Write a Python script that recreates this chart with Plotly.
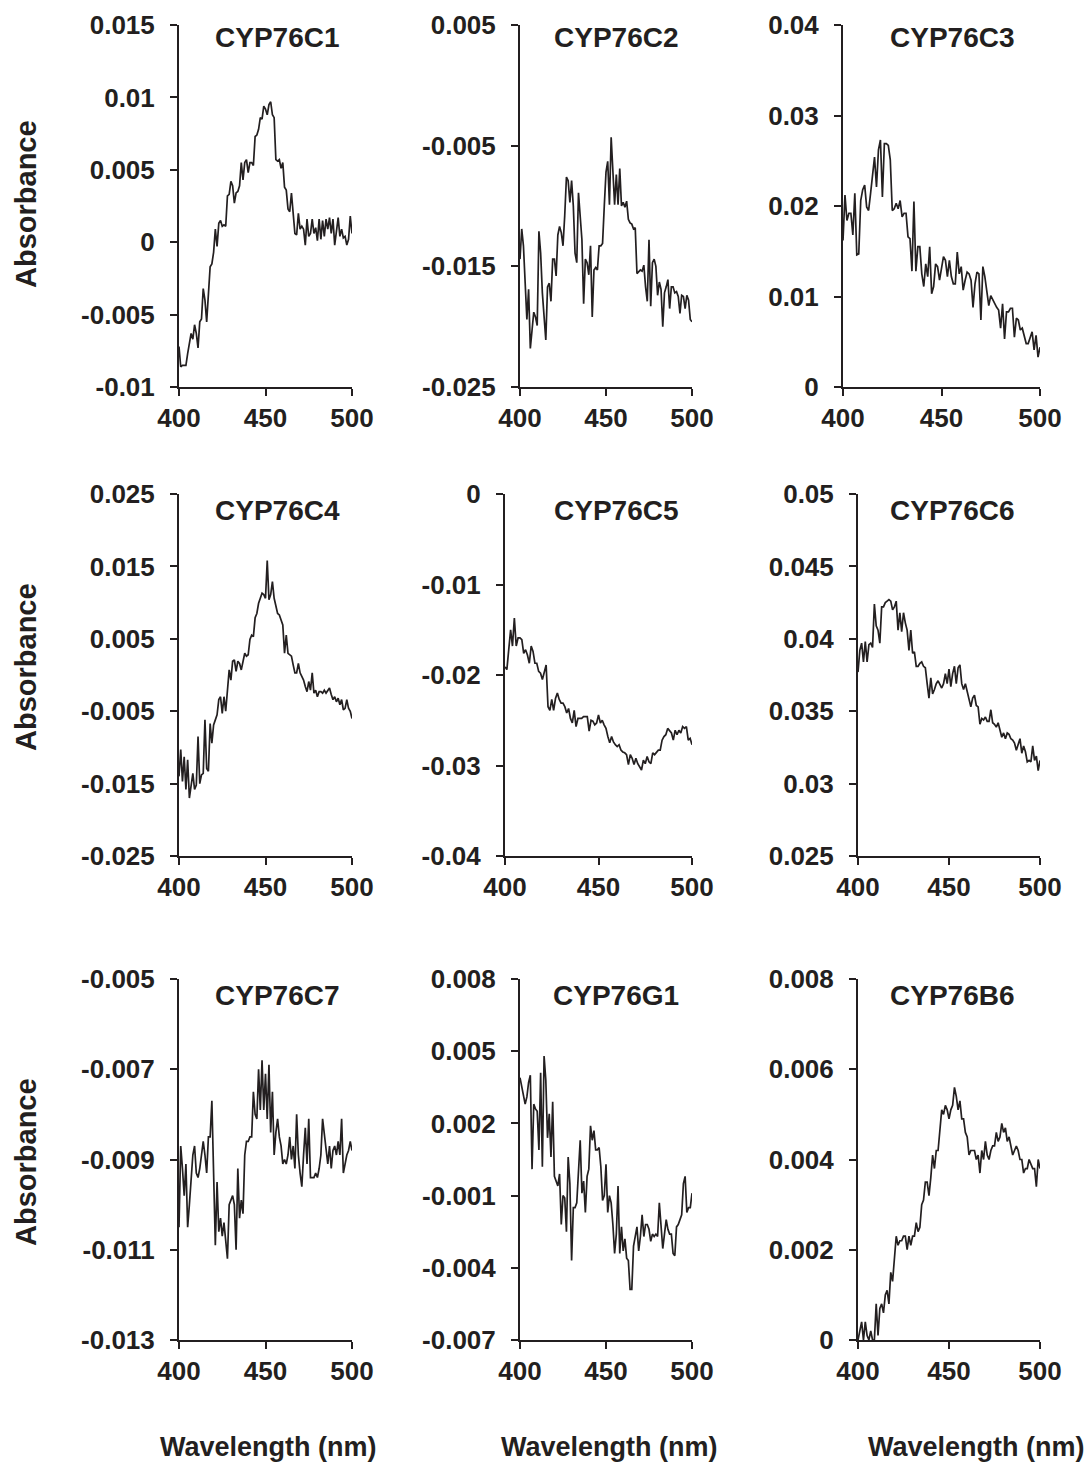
import plotly.graph_objects as go

W, H = 1091, 1466

wavelength = list(range(400, 501))

titles = ["CYP76C1", "CYP76C2", "CYP76C3",
          "CYP76C4", "CYP76C5", "CYP76C6",
          "CYP76C7", "CYP76G1", "CYP76B6"]

cyp76c1 = [-0.0072, -0.0086, -0.0085, -0.0085, -0.0085, -0.0077, -0.0070, -0.0063, -0.0067, -0.0057,
           -0.0063, -0.0073, -0.0055, -0.0053, -0.0032, -0.0040, -0.0055, -0.0037, -0.0017, -0.0015,
           -0.0007, 0.0009, -0.0003, 0.0013, 0.0015, 0.0011, 0.0012, 0.0011, 0.0032, 0.0033,
           0.0042, 0.0039, 0.0027, 0.0034, 0.0035, 0.0039, 0.0055, 0.0043, 0.0055, 0.0057,
           0.0048, 0.0055, 0.0055, 0.0053, 0.0073, 0.0074, 0.0078, 0.0086, 0.0085, 0.0094,
           0.0092, 0.0088, 0.0095, 0.0097, 0.0088, 0.0086, 0.0057, 0.0056, 0.0057, 0.0051,
           0.0055, 0.0038, 0.0036, 0.0023, 0.0021, 0.0034, 0.0020, 0.0006, 0.0005, 0.0020,
           0.0009, 0.0011, 0.0009, -0.0002, 0.0016, 0.0004, 0.0006, 0.0016, 0.0006, 0.0010,
           0.0001, 0.0016, 0.0002, 0.0015, 0.0004, 0.0016, 0.0009, 0.0017, 0.0006, 0.0016,
           -0.0002, 0.0009, 0.0017, 0.0004, 0.0009, 0.0003, 0.0004, -0.0002, 0.0002, 0.0018,
           0.0006]

cyp76c2 = [-0.0144, -0.0119, -0.0133, -0.0169, -0.0194, -0.0169, -0.0218, -0.0203, -0.0188, -0.0192,
           -0.0199, -0.0121, -0.0139, -0.0172, -0.0194, -0.0211, -0.0167, -0.0164, -0.0179, -0.0144,
           -0.0144, -0.0158, -0.0124, -0.0117, -0.0122, -0.0133, -0.0108, -0.0076, -0.0079, -0.0097,
           -0.0079, -0.0100, -0.0139, -0.0147, -0.0089, -0.0106, -0.0128, -0.0181, -0.0144, -0.0147,
           -0.0157, -0.0133, -0.0192, -0.0153, -0.0151, -0.0153, -0.0133, -0.0133, -0.0131, -0.0100,
           -0.0072, -0.0063, -0.0099, -0.0043, -0.0069, -0.0099, -0.0074, -0.0099, -0.0069, -0.0100,
           -0.0097, -0.0101, -0.0096, -0.0111, -0.0114, -0.0115, -0.0119, -0.0118, -0.0156, -0.0154,
           -0.0153, -0.0154, -0.0149, -0.0167, -0.0179, -0.0128, -0.0183, -0.0147, -0.0144, -0.0150,
           -0.0174, -0.0163, -0.0169, -0.0200, -0.0172, -0.0167, -0.0161, -0.0185, -0.0167, -0.0167,
           -0.0172, -0.0171, -0.0175, -0.0189, -0.0174, -0.0175, -0.0185, -0.0174, -0.0178, -0.0194,
           -0.0196]

cyp76c3 = [0.0162, 0.0212, 0.0184, 0.0192, 0.0192, 0.0168, 0.0214, 0.0146, 0.0147, 0.0206,
           0.0218, 0.0223, 0.0199, 0.0195, 0.0214, 0.0238, 0.0254, 0.0221, 0.0262, 0.0273,
           0.0210, 0.0269, 0.0269, 0.0267, 0.0251, 0.0195, 0.0197, 0.0203, 0.0197, 0.0206,
           0.0188, 0.0192, 0.0192, 0.0166, 0.0164, 0.0128, 0.0205, 0.0128, 0.0155, 0.0155,
           0.0125, 0.0111, 0.0136, 0.0122, 0.0155, 0.0103, 0.0111, 0.0136, 0.0133, 0.0118,
           0.0133, 0.0144, 0.0140, 0.0122, 0.0140, 0.0122, 0.0114, 0.0114, 0.0149, 0.0125,
           0.0133, 0.0107, 0.0118, 0.0127, 0.0125, 0.0118, 0.0088, 0.0114, 0.0127, 0.0125,
           0.0074, 0.0133, 0.0122, 0.0107, 0.0090, 0.0101, 0.0096, 0.0092, 0.0088, 0.0085,
           0.0065, 0.0092, 0.0053, 0.0083, 0.0083, 0.0087, 0.0087, 0.0055, 0.0076, 0.0074,
           0.0063, 0.0065, 0.0055, 0.0048, 0.0048, 0.0055, 0.0061, 0.0041, 0.0057, 0.0033,
           0.0044]

cyp76c4 = [-0.0140, -0.0103, -0.0147, -0.0113, -0.0158, -0.0117, -0.0170, -0.0150, -0.0136, -0.0158,
           -0.0152, -0.0085, -0.0150, -0.0138, -0.0136, -0.0062, -0.0129, -0.0133, -0.0067, -0.0094,
           -0.0069, -0.0062, -0.0055, -0.0034, -0.0030, -0.0053, -0.0030, -0.0050, -0.0016, 0.0007,
           -0.0007, 0.0019, 0.0021, 0.0005, 0.0019, 0.0016, 0.0007, 0.0019, 0.0030, 0.0026,
           0.0028, 0.0049, 0.0055, 0.0053, 0.0079, 0.0085, 0.0099, 0.0106, 0.0113, 0.0111,
           0.0106, 0.0158, 0.0104, 0.0111, 0.0129, 0.0106, 0.0095, 0.0085, 0.0083, 0.0076,
           0.0069, 0.0030, 0.0055, 0.0030, 0.0028, 0.0026, 0.0014, 0.0003, 0.0003, 0.0016,
           0.0003, -0.0002, -0.0007, -0.0016, -0.0023, -0.0009, -0.0021, 0.0003, -0.0025, -0.0021,
           -0.0030, -0.0023, -0.0023, -0.0025, -0.0021, -0.0025, -0.0021, -0.0018, -0.0027, -0.0034,
           -0.0030, -0.0037, -0.0032, -0.0041, -0.0034, -0.0048, -0.0046, -0.0034, -0.0046, -0.0050,
           -0.0060]

cyp76c5 = [-0.0191, -0.0194, -0.0172, -0.0150, -0.0168, -0.0137, -0.0168, -0.0159, -0.0159, -0.0161,
           -0.0176, -0.0172, -0.0178, -0.0187, -0.0168, -0.0174, -0.0187, -0.0187, -0.0196, -0.0198,
           -0.0205, -0.0196, -0.0189, -0.0235, -0.0239, -0.0227, -0.0239, -0.0226, -0.0220, -0.0227,
           -0.0231, -0.0231, -0.0235, -0.0242, -0.0237, -0.0248, -0.0253, -0.0239, -0.0257, -0.0248,
           -0.0248, -0.0248, -0.0246, -0.0246, -0.0246, -0.0262, -0.0250, -0.0251, -0.0255, -0.0253,
           -0.0244, -0.0253, -0.0250, -0.0255, -0.0259, -0.0268, -0.0275, -0.0268, -0.0274, -0.0277,
           -0.0279, -0.0277, -0.0283, -0.0285, -0.0286, -0.0288, -0.0299, -0.0288, -0.0292, -0.0299,
           -0.0292, -0.0298, -0.0301, -0.0305, -0.0294, -0.0298, -0.0290, -0.0296, -0.0298, -0.0286,
           -0.0288, -0.0285, -0.0283, -0.0283, -0.0272, -0.0268, -0.0266, -0.0259, -0.0261, -0.0264,
           -0.0272, -0.0261, -0.0266, -0.0261, -0.0264, -0.0257, -0.0259, -0.0257, -0.0272, -0.0270,
           -0.0277]

cyp76c6 = [0.0377, 0.0392, 0.0397, 0.0384, 0.0398, 0.0384, 0.0396, 0.0397, 0.0394, 0.0424,
           0.0409, 0.0406, 0.0397, 0.0422, 0.0422, 0.0425, 0.0426, 0.0427, 0.0426, 0.0420,
           0.0422, 0.0426, 0.0406, 0.0418, 0.0405, 0.0418, 0.0411, 0.0406, 0.0392, 0.0406,
           0.0390, 0.0391, 0.0381, 0.0381, 0.0383, 0.0384, 0.0381, 0.0380, 0.0369, 0.0359,
           0.0373, 0.0362, 0.0365, 0.0369, 0.0371, 0.0368, 0.0366, 0.0369, 0.0376, 0.0369,
           0.0379, 0.0367, 0.0376, 0.0381, 0.0369, 0.0380, 0.0382, 0.0369, 0.0365, 0.0369,
           0.0364, 0.0358, 0.0353, 0.0359, 0.0361, 0.0354, 0.0353, 0.0341, 0.0345, 0.0344,
           0.0346, 0.0343, 0.0343, 0.0351, 0.0342, 0.0341, 0.0339, 0.0342, 0.0336, 0.0332,
           0.0335, 0.0331, 0.0335, 0.0334, 0.0331, 0.0330, 0.0328, 0.0323, 0.0327, 0.0331,
           0.0321, 0.0326, 0.0322, 0.0315, 0.0316, 0.0315, 0.0326, 0.0316, 0.0319, 0.0309,
           0.0316]

cyp76c7 = [-0.0105, -0.0087, -0.0092, -0.0098, -0.0091, -0.0105, -0.0100, -0.0093, -0.0089, -0.0087,
           -0.0093, -0.0094, -0.0092, -0.0089, -0.0086, -0.0089, -0.0093, -0.0085, -0.0085, -0.0077,
           -0.0093, -0.0109, -0.0095, -0.0106, -0.0103, -0.0107, -0.0104, -0.0109, -0.0112, -0.0100,
           -0.0099, -0.0098, -0.0100, -0.0110, -0.0092, -0.0103, -0.0099, -0.0102, -0.0089, -0.0086,
           -0.0086, -0.0085, -0.0085, -0.0075, -0.0080, -0.0081, -0.0070, -0.0079, -0.0068, -0.0079,
           -0.0071, -0.0081, -0.0069, -0.0084, -0.0075, -0.0089, -0.0084, -0.0081, -0.0085, -0.0087,
           -0.0091, -0.0090, -0.0091, -0.0089, -0.0085, -0.0090, -0.0087, -0.0092, -0.0080, -0.0089,
           -0.0093, -0.0096, -0.0089, -0.0083, -0.0091, -0.0081, -0.0094, -0.0094, -0.0094, -0.0093,
           -0.0094, -0.0092, -0.0089, -0.0081, -0.0084, -0.0087, -0.0091, -0.0087, -0.0092, -0.0088,
           -0.0087, -0.0089, -0.0086, -0.0089, -0.0081, -0.0093, -0.0091, -0.0089, -0.0088, -0.0086,
           -0.0088]

cyp76g1 = [0.0039, 0.0035, 0.0031, 0.0028, 0.0031, 0.0037, 0.0040, 0.0001, 0.0028, 0.0026,
           0.0025, 0.0009, 0.0041, 0.0002, 0.0048, 0.0038, 0.0014, 0.0024, 0.0006, 0.0029,
           -0.0002, -0.0004, -0.0006, -0.0001, -0.0022, -0.0010, -0.0011, -0.0025, 0.0006, -0.0005,
           -0.0037, -0.0015, -0.0015, -0.0013, 0.0002, 0.0013, -0.0009, -0.0004, -0.0017, -0.0002,
           0.0001, 0.0019, 0.0013, 0.0017, 0.0009, 0.0009, 0.0010, 0.0002, -0.0012, -0.0010,
           0.0003, -0.0017, -0.0010, -0.0013, -0.0022, -0.0034, -0.0026, -0.0006, -0.0034, -0.0023,
           -0.0033, -0.0028, -0.0036, -0.0037, -0.0049, -0.0049, -0.0031, -0.0027, -0.0023, -0.0033,
           -0.0027, -0.0018, -0.0027, -0.0022, -0.0022, -0.0024, -0.0029, -0.0026, -0.0027, -0.0026,
           -0.0027, -0.0013, -0.0024, -0.0032, -0.0026, -0.0020, -0.0024, -0.0026, -0.0026, -0.0034,
           -0.0035, -0.0023, -0.0022, -0.0020, -0.0018, -0.0005, -0.0002, -0.0017, -0.0015, -0.0015,
           -0.0009]

cyp76b6 = [0.0000, 0.0002, 0.0004, 0.0000, 0.0004, 0.0001, 0.0000, 0.0002, 0.0000, 0.0000,
           0.0008, 0.0001, 0.0007, 0.0008, 0.0006, 0.0010, 0.0011, 0.0008, 0.0015, 0.0013,
           0.0019, 0.0023, 0.0021, 0.0022, 0.0022, 0.0023, 0.0023, 0.0020, 0.0023, 0.0021,
           0.0023, 0.0023, 0.0026, 0.0024, 0.0025, 0.0030, 0.0031, 0.0035, 0.0035, 0.0032,
           0.0036, 0.0041, 0.0038, 0.0042, 0.0042, 0.0046, 0.0051, 0.0050, 0.0052, 0.0051,
           0.0049, 0.0051, 0.0052, 0.0056, 0.0054, 0.0051, 0.0053, 0.0049, 0.0049, 0.0046,
           0.0045, 0.0041, 0.0042, 0.0042, 0.0042, 0.0040, 0.0041, 0.0037, 0.0042, 0.0040,
           0.0044, 0.0041, 0.0040, 0.0042, 0.0043, 0.0043, 0.0046, 0.0044, 0.0045, 0.0048,
           0.0046, 0.0047, 0.0044, 0.0045, 0.0043, 0.0041, 0.0042, 0.0043, 0.0042, 0.0040,
           0.0040, 0.0037, 0.0038, 0.0038, 0.0040, 0.0039, 0.0038, 0.0038, 0.0034, 0.0040,
           0.0038]

series = [cyp76c1, cyp76c2, cyp76c3, cyp76c4, cyp76c5, cyp76c6, cyp76c7, cyp76g1, cyp76b6]

y_tickvals = [
    [-0.01, -0.005, 0, 0.005, 0.01, 0.015],
    [-0.025, -0.015, -0.005, 0.005],
    [0, 0.01, 0.02, 0.03, 0.04],
    [-0.025, -0.015, -0.005, 0.005, 0.015, 0.025],
    [-0.04, -0.03, -0.02, -0.01, 0],
    [0.025, 0.03, 0.035, 0.04, 0.045, 0.05],
    [-0.013, -0.011, -0.009, -0.007, -0.005],
    [-0.007, -0.004, -0.001, 0.002, 0.005, 0.008],
    [0, 0.002, 0.004, 0.006, 0.008],
]
y_ticktext = [
    ["-0.01", "-0.005", "0", "0.005", "0.01", "0.015"],
    ["-0.025", "-0.015", "-0.005", "0.005"],
    ["0", "0.01", "0.02", "0.03", "0.04"],
    ["-0.025", "-0.015", "-0.005", "0.005", "0.015", "0.025"],
    ["-0.04", "-0.03", "-0.02", "-0.01", "0"],
    ["0.025", "0.03", "0.035", "0.04", "0.045", "0.05"],
    ["-0.013", "-0.011", "-0.009", "-0.007", "-0.005"],
    ["-0.007", "-0.004", "-0.001", "0.002", "0.005", "0.008"],
    ["0", "0.002", "0.004", "0.006", "0.008"],
]
x_tickvals = [400, 450, 500]
x_ticktext = ["400", "450", "500"]
y_label = "Absorbance"
x_label = "Wavelength (nm)"

# ---- layout (pixel geometry) ----
row_px = [(25, 387), (494, 856), (979, 1340)]
col_px = [[(179, 352), (520, 692), (843, 1040)],
          [(179, 352), (505, 692), (858, 1040)],
          [(179, 352), (520, 692), (858, 1040)]]
title_x_px = [277, 616, 952]
title_y_px = [37, 510, 995]
ylabel_y_px = [204, 667, 1162]
xlabel_x_px = [268, 609, 976]

INK = "#231f20"
FONT = "Liberation Sans, Arial, sans-serif"


def fx(p):
    return p / W


def fy(p):
    return 1 - p / H


def bold(s):
    return "<b>%s</b>" % s


fig = go.Figure()
layout = dict(
    template="none",
    width=W, height=H, autosize=False,
    margin=dict(l=0, r=0, t=0, b=0, pad=0, autoexpand=False),
    paper_bgcolor="white", plot_bgcolor="white",
    showlegend=False,
    font=dict(family=FONT, color=INK),
)

annotations = []
for i, (name, vals) in enumerate(zip(titles, series)):
    r, c = divmod(i, 3)
    k = "" if i == 0 else str(i + 1)
    fig.add_trace(go.Scatter(
        x=wavelength, y=vals, mode="lines",
        line=dict(color=INK, width=1.7),
        xaxis="x" + k, yaxis="y" + k, hoverinfo="skip",
    ))
    x0, x1 = col_px[r][c]
    y0, y1 = row_px[r]
    tv = y_tickvals[i]
    layout["xaxis" + k] = dict(
        domain=[fx(x0), fx(x1)], anchor="y" + k, automargin=False,
        range=[400, 500], tickvals=x_tickvals,
        ticktext=[bold(t) for t in x_ticktext],
        showgrid=False, zeroline=False,
        showline=True, linecolor=INK, linewidth=2,
        ticks="outside", ticklen=7, tickwidth=2, tickcolor=INK,
        ticklabelstandoff=0,
        tickfont=dict(family=FONT, size=26, color=INK),
    )
    layout["yaxis" + k] = dict(
        domain=[fy(y1), fy(y0)], anchor="x" + k, automargin=False,
        range=[min(tv), max(tv)], tickvals=tv,
        ticktext=[bold(t) for t in y_ticktext[i]],
        showgrid=False, zeroline=False,
        showline=True, linecolor=INK, linewidth=2,
        ticks="outside", ticklen=7, tickwidth=2, tickcolor=INK,
        ticklabelstandoff=10,
        tickfont=dict(family=FONT, size=26, color=INK),
    )
    annotations.append(dict(
        text=bold(name), x=fx(title_x_px[c]), y=fy(title_y_px[r]),
        xref="paper", yref="paper", xanchor="center", yanchor="middle",
        showarrow=False, font=dict(family=FONT, size=28, color=INK),
    ))

for r in range(3):
    annotations.append(dict(
        text=bold(y_label), x=fx(26), y=fy(ylabel_y_px[r]),
        xref="paper", yref="paper", xanchor="center", yanchor="middle",
        textangle=-90, showarrow=False, font=dict(family=FONT, size=29, color=INK),
    ))
for c in range(3):
    annotations.append(dict(
        text=bold(x_label), x=fx(xlabel_x_px[c]), y=fy(1447),
        xref="paper", yref="paper", xanchor="center", yanchor="middle",
        showarrow=False, font=dict(family=FONT, size=27, color=INK),
    ))

layout["annotations"] = annotations
fig.update_layout(**layout)
fig.write_html(
    "out.html",
    post_script="document.body.style.margin='0';document.body.style.padding='0';"
                "document.documentElement.style.margin='0';",
)
